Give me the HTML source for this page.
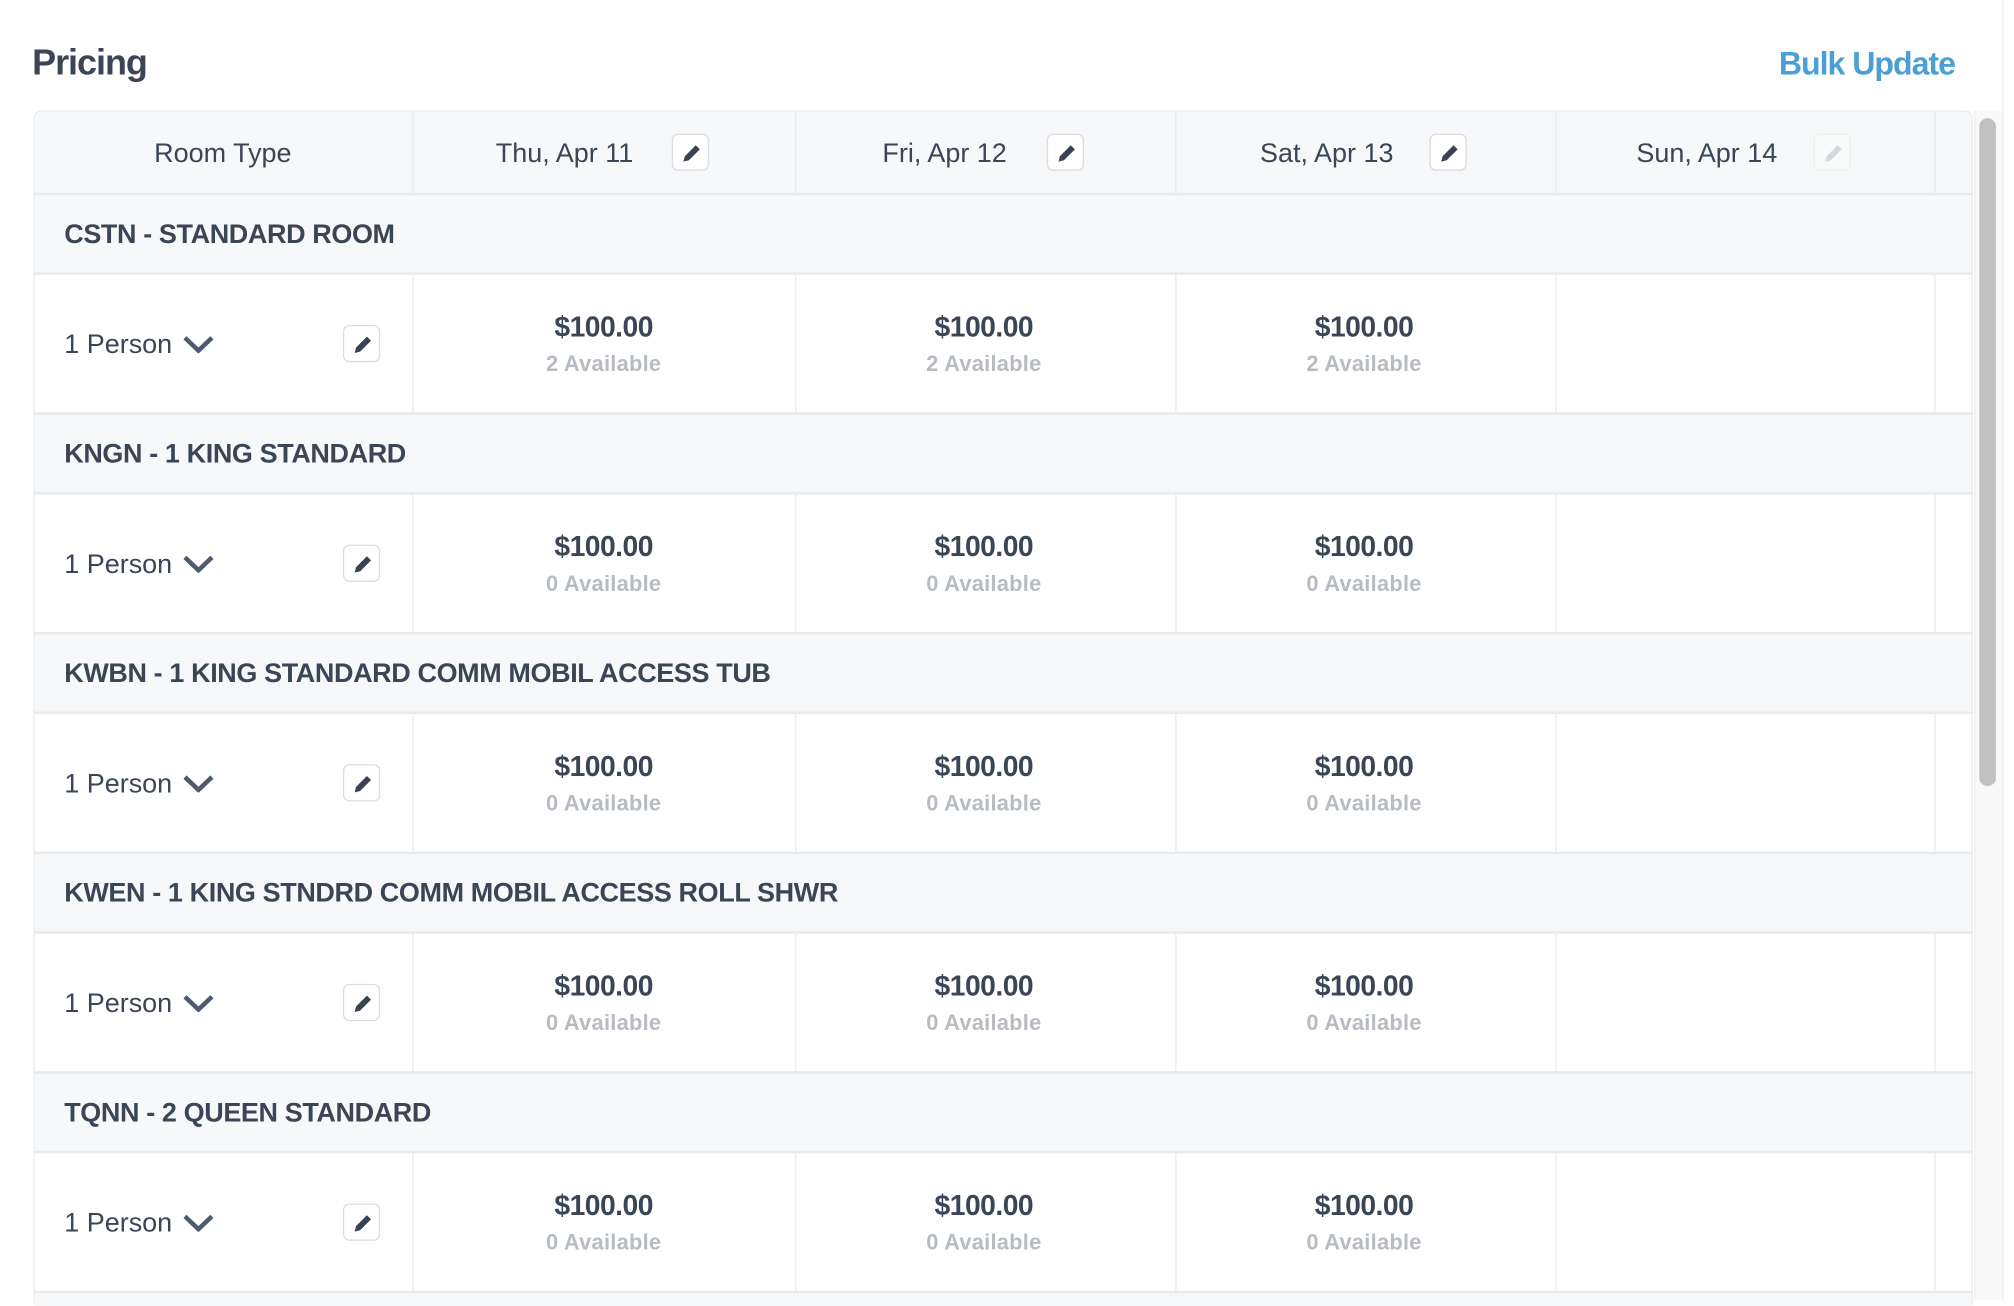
<!DOCTYPE html>
<html><head><meta charset="utf-8">
<style>
html,body{margin:0;padding:0;background:#fff;}
body{width:2014px;height:1300px;overflow:hidden;position:relative;}
#w{position:absolute;left:0;top:0;width:1568px;height:1012px;transform:scale(1.2844);transform-origin:0 0;font-family:"Liberation Sans",sans-serif;color:#3a4556;}
.a{position:absolute;}
.t{position:absolute;white-space:nowrap;letter-spacing:0;}
.bg{position:absolute;background:#f7f8f9;}
.hl{position:absolute;height:2px;background:#e8ebee;}
.vl{position:absolute;width:1px;background:#e8ebee;}
.btn{position:absolute;width:29px;height:29px;border:1px solid #d9dde2;border-radius:5px;box-sizing:border-box;background:#fff;}
.btn svg{position:absolute;left:6px;top:6px;}
.sec{font-size:21px;font-weight:bold;letter-spacing:-0.3px;left:50px;}
.pr{font-size:22px;font-weight:bold;width:200px;text-align:center;letter-spacing:-0.4px;}
.av{font-size:17px;font-weight:bold;color:#b7bcc2;width:200px;text-align:center;letter-spacing:0.2px;}
.ps{font-size:21px;left:50px;letter-spacing:0;}
</style></head><body><div id="w">
<div class="t" style="left:25px;top:33px;font-size:28px;font-weight:bold;letter-spacing:-0.8px;">Pricing</div>
<div class="t" style="left:1385px;top:36px;font-size:25px;font-weight:bold;color:#4b9fd4;letter-spacing:-0.8px;">Bulk Update</div>
<div class="vl" style="left:1559px;top:0;height:1012px;background:#eceef0"></div>
<div class="a" style="left:26px;top:86px;width:1510px;height:930px;border:1px solid #e8ebee;border-radius:6px 6px 0 0;box-sizing:border-box;"></div>
<div class="bg" style="left:27px;top:87px;width:1508px;height:64px;border-radius:6px 6px 0 0"></div>
<div class="bg" style="left:27px;top:152px;width:1508px;height:61px"></div>
<div class="bg" style="left:27px;top:323px;width:1508px;height:61px"></div>
<div class="bg" style="left:27px;top:494px;width:1508px;height:61px"></div>
<div class="bg" style="left:27px;top:665px;width:1508px;height:61px"></div>
<div class="bg" style="left:27px;top:836px;width:1508px;height:61px"></div>
<div class="bg" style="left:27px;top:1007px;width:1508px;height:10px"></div>
<div class="hl" style="left:26px;top:150px;width:1510px"></div>
<div class="hl" style="left:26px;top:212px;width:1510px"></div>
<div class="hl" style="left:26px;top:321px;width:1510px"></div>
<div class="hl" style="left:26px;top:383px;width:1510px"></div>
<div class="hl" style="left:26px;top:492px;width:1510px"></div>
<div class="hl" style="left:26px;top:554px;width:1510px"></div>
<div class="hl" style="left:26px;top:663px;width:1510px"></div>
<div class="hl" style="left:26px;top:725px;width:1510px"></div>
<div class="hl" style="left:26px;top:834px;width:1510px"></div>
<div class="hl" style="left:26px;top:896px;width:1510px"></div>
<div class="hl" style="left:26px;top:1005px;width:1510px"></div>
<div class="vl" style="left:321px;top:86px;height:65px"></div>
<div class="vl" style="left:619px;top:86px;height:65px"></div>
<div class="vl" style="left:915px;top:86px;height:65px"></div>
<div class="vl" style="left:1211px;top:86px;height:65px"></div>
<div class="vl" style="left:1506px;top:86px;height:65px"></div>
<div class="vl" style="left:321px;top:213px;height:109px"></div><div class="vl" style="left:619px;top:213px;height:109px"></div><div class="vl" style="left:915px;top:213px;height:109px"></div><div class="vl" style="left:1211px;top:213px;height:109px"></div><div class="vl" style="left:1506px;top:213px;height:109px"></div>
<div class="vl" style="left:321px;top:384px;height:109px"></div><div class="vl" style="left:619px;top:384px;height:109px"></div><div class="vl" style="left:915px;top:384px;height:109px"></div><div class="vl" style="left:1211px;top:384px;height:109px"></div><div class="vl" style="left:1506px;top:384px;height:109px"></div>
<div class="vl" style="left:321px;top:555px;height:109px"></div><div class="vl" style="left:619px;top:555px;height:109px"></div><div class="vl" style="left:915px;top:555px;height:109px"></div><div class="vl" style="left:1211px;top:555px;height:109px"></div><div class="vl" style="left:1506px;top:555px;height:109px"></div>
<div class="vl" style="left:321px;top:726px;height:109px"></div><div class="vl" style="left:619px;top:726px;height:109px"></div><div class="vl" style="left:915px;top:726px;height:109px"></div><div class="vl" style="left:1211px;top:726px;height:109px"></div><div class="vl" style="left:1506px;top:726px;height:109px"></div>
<div class="vl" style="left:321px;top:897px;height:109px"></div><div class="vl" style="left:619px;top:897px;height:109px"></div><div class="vl" style="left:915px;top:897px;height:109px"></div><div class="vl" style="left:1211px;top:897px;height:109px"></div><div class="vl" style="left:1506px;top:897px;height:109px"></div>
<div class="a" style="left:1537px;top:86px;width:21px;height:926px;background:#f9f9f9;border-left:1px solid #eee"></div>
<div class="a" style="left:1541px;top:92px;width:13px;height:520px;background:#c1c1c1;border-radius:7px"></div>
<div class="t" style="left:120px;top:108px;font-size:21px;">Room Type</div>
<div class="t" style="left:386px;top:108px;font-size:21px;">Thu, Apr 11</div>
<div class="t" style="left:687px;top:108px;font-size:21px;">Fri, Apr 12</div>
<div class="t" style="left:981px;top:108px;font-size:21px;">Sat, Apr 13</div>
<div class="t" style="left:1274px;top:108px;font-size:21px;">Sun, Apr 14</div>
<div class="btn" style="left:523px;top:104px"><svg width="17" height="17" viewBox="0 0 16 16"><path d="M2 14l1-4 8-8 3 3-8 8z" fill="#3a4350"/></svg></div>
<div class="btn" style="left:815px;top:104px"><svg width="17" height="17" viewBox="0 0 16 16"><path d="M2 14l1-4 8-8 3 3-8 8z" fill="#3a4350"/></svg></div>
<div class="btn" style="left:1113px;top:104px"><svg width="17" height="17" viewBox="0 0 16 16"><path d="M2 14l1-4 8-8 3 3-8 8z" fill="#3a4350"/></svg></div>
<div class="btn" style="left:1412px;top:104px;border-color:#eceef0;background:#f9fafa"><svg width="17" height="17" viewBox="0 0 16 16"><path d="M2 14l1-4 8-8 3 3-8 8z" fill="#d5d8dc"/></svg></div>
<div class="t sec" style="top:171px">CSTN - STANDARD ROOM</div>
<div class="t sec" style="top:342px">KNGN - 1 KING STANDARD</div>
<div class="t sec" style="top:513px">KWBN - 1 KING STANDARD COMM MOBIL ACCESS TUB</div>
<div class="t sec" style="top:684px">KWEN - 1 KING STNDRD COMM MOBIL ACCESS ROLL SHWR</div>
<div class="t sec" style="top:855px">TQNN - 2 QUEEN STANDARD</div>
<div class="t ps" style="top:257px">1 Person</div>
<div class="t ps" style="top:428px">1 Person</div>
<div class="t ps" style="top:599px">1 Person</div>
<div class="t ps" style="top:770px">1 Person</div>
<div class="t ps" style="top:941px">1 Person</div>
<svg class="a" style="left:142px;top:261px" width="25" height="14" viewBox="0 0 25 14"><path d="M2 2l10.5 10L23 2" stroke="#4d5a70" stroke-width="3.5" fill="none"/></svg>
<svg class="a" style="left:142px;top:432px" width="25" height="14" viewBox="0 0 25 14"><path d="M2 2l10.5 10L23 2" stroke="#4d5a70" stroke-width="3.5" fill="none"/></svg>
<svg class="a" style="left:142px;top:603px" width="25" height="14" viewBox="0 0 25 14"><path d="M2 2l10.5 10L23 2" stroke="#4d5a70" stroke-width="3.5" fill="none"/></svg>
<svg class="a" style="left:142px;top:774px" width="25" height="14" viewBox="0 0 25 14"><path d="M2 2l10.5 10L23 2" stroke="#4d5a70" stroke-width="3.5" fill="none"/></svg>
<svg class="a" style="left:142px;top:945px" width="25" height="14" viewBox="0 0 25 14"><path d="M2 2l10.5 10L23 2" stroke="#4d5a70" stroke-width="3.5" fill="none"/></svg>
<div class="btn" style="left:267px;top:253px"><svg width="17" height="17" viewBox="0 0 16 16"><path d="M2 14l1-4 8-8 3 3-8 8z" fill="#3a4350"/></svg></div>
<div class="btn" style="left:267px;top:424px"><svg width="17" height="17" viewBox="0 0 16 16"><path d="M2 14l1-4 8-8 3 3-8 8z" fill="#3a4350"/></svg></div>
<div class="btn" style="left:267px;top:595px"><svg width="17" height="17" viewBox="0 0 16 16"><path d="M2 14l1-4 8-8 3 3-8 8z" fill="#3a4350"/></svg></div>
<div class="btn" style="left:267px;top:766px"><svg width="17" height="17" viewBox="0 0 16 16"><path d="M2 14l1-4 8-8 3 3-8 8z" fill="#3a4350"/></svg></div>
<div class="btn" style="left:267px;top:937px"><svg width="17" height="17" viewBox="0 0 16 16"><path d="M2 14l1-4 8-8 3 3-8 8z" fill="#3a4350"/></svg></div>
<div class="t pr" style="left:370px;top:242px">$100.00</div><div class="t av" style="left:370px;top:274px">2 Available</div>
<div class="t pr" style="left:666px;top:242px">$100.00</div><div class="t av" style="left:666px;top:274px">2 Available</div>
<div class="t pr" style="left:962px;top:242px">$100.00</div><div class="t av" style="left:962px;top:274px">2 Available</div>
<div class="t pr" style="left:370px;top:413px">$100.00</div><div class="t av" style="left:370px;top:445px">0 Available</div>
<div class="t pr" style="left:666px;top:413px">$100.00</div><div class="t av" style="left:666px;top:445px">0 Available</div>
<div class="t pr" style="left:962px;top:413px">$100.00</div><div class="t av" style="left:962px;top:445px">0 Available</div>
<div class="t pr" style="left:370px;top:584px">$100.00</div><div class="t av" style="left:370px;top:616px">0 Available</div>
<div class="t pr" style="left:666px;top:584px">$100.00</div><div class="t av" style="left:666px;top:616px">0 Available</div>
<div class="t pr" style="left:962px;top:584px">$100.00</div><div class="t av" style="left:962px;top:616px">0 Available</div>
<div class="t pr" style="left:370px;top:755px">$100.00</div><div class="t av" style="left:370px;top:787px">0 Available</div>
<div class="t pr" style="left:666px;top:755px">$100.00</div><div class="t av" style="left:666px;top:787px">0 Available</div>
<div class="t pr" style="left:962px;top:755px">$100.00</div><div class="t av" style="left:962px;top:787px">0 Available</div>
<div class="t pr" style="left:370px;top:926px">$100.00</div><div class="t av" style="left:370px;top:958px">0 Available</div>
<div class="t pr" style="left:666px;top:926px">$100.00</div><div class="t av" style="left:666px;top:958px">0 Available</div>
<div class="t pr" style="left:962px;top:926px">$100.00</div><div class="t av" style="left:962px;top:958px">0 Available</div>
</div></body></html>
